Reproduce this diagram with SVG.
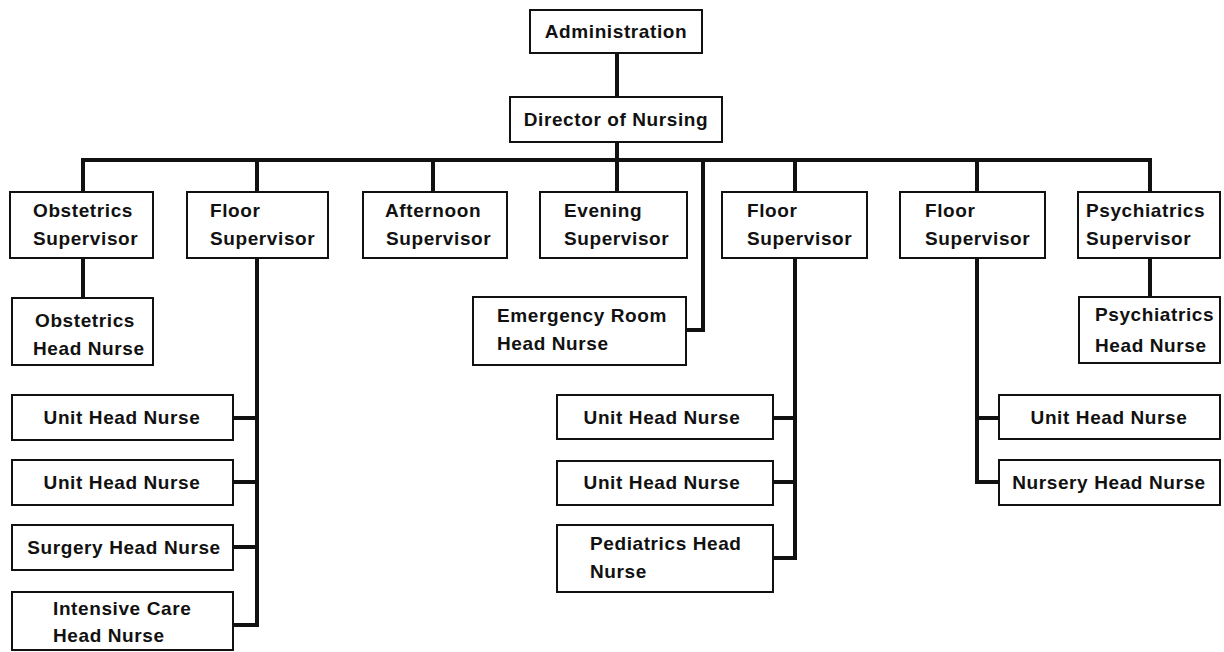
<svg xmlns="http://www.w3.org/2000/svg" width="1224" height="652" viewBox="0 0 1224 652">
<style>
.box{fill:#fff;stroke:#111;stroke-width:2}
.t{font-family:"Liberation Sans",Arial,sans-serif;font-weight:bold;font-size:19px;letter-spacing:0.6px;fill:#111}
.c{text-anchor:middle}
.ln{fill:none;stroke:#111;stroke-width:4;stroke-linejoin:miter;stroke-linecap:square}
</style>
<rect width="1224" height="652" fill="#fff"/>
<g id="connectors">
<path class="ln" d="M617 53V192"/>
<path class="ln" d="M83 160H1150V192"/>
<path class="ln" d="M83 160V192M257 160V192M433 160V192M795 160V192M977 160V192"/>
<path class="ln" d="M703 160V330H687"/>
<path class="ln" d="M83 258V298"/>
<path class="ln" d="M1150 258V297"/>
<path class="ln" d="M257 258V625H234M234 418H257M234 482H257M234 547H257"/>
<path class="ln" d="M795 258V558H774M774 418H795M774 482H795"/>
<path class="ln" d="M977 258V482H999M977 418H999"/>
</g>
<g id="administration"><rect class="box" x="530" y="10" width="172" height="43"/><text class="t c" x="616" y="38">Administration</text></g>
<g id="director"><rect class="box" x="510" y="97" width="212" height="45"/><text class="t c" x="616" y="126">Director of Nursing</text></g>
<g id="obstetrics-supervisor"><rect class="box" x="10" y="192" width="143" height="66"/><text class="t" x="33" y="217">Obstetrics</text><text class="t" x="33" y="245">Supervisor</text></g>
<g id="floor-supervisor-1"><rect class="box" x="187" y="192" width="141" height="66"/><text class="t" x="210" y="217">Floor</text><text class="t" x="210" y="245">Supervisor</text></g>
<g id="afternoon-supervisor"><rect class="box" x="363" y="192" width="144" height="66"/><text class="t" x="385" y="217">Afternoon</text><text class="t" x="386" y="245">Supervisor</text></g>
<g id="evening-supervisor"><rect class="box" x="540" y="192" width="147" height="66"/><text class="t" x="564" y="217">Evening</text><text class="t" x="564" y="245">Supervisor</text></g>
<g id="floor-supervisor-2"><rect class="box" x="722" y="192" width="145" height="66"/><text class="t" x="747" y="217">Floor</text><text class="t" x="747" y="245">Supervisor</text></g>
<g id="floor-supervisor-3"><rect class="box" x="900" y="192" width="145" height="66"/><text class="t" x="925" y="217">Floor</text><text class="t" x="925" y="245">Supervisor</text></g>
<g id="psychiatrics-supervisor"><rect class="box" x="1078" y="192" width="142" height="66"/><text class="t" x="1086" y="217">Psychiatrics</text><text class="t" x="1086" y="245">Supervisor</text></g>
<g id="obstetrics-head-nurse"><rect class="box" x="12" y="298" width="141" height="67"/><text class="t" x="35" y="327">Obstetrics</text><text class="t" x="33" y="355">Head Nurse</text></g>
<g id="emergency-room-head-nurse"><rect class="box" x="473" y="297" width="213" height="68"/><text class="t" x="497" y="322">Emergency Room</text><text class="t" x="497" y="350">Head Nurse</text></g>
<g id="psychiatrics-head-nurse"><rect class="box" x="1079" y="297" width="141" height="66"/><text class="t" x="1095" y="321">Psychiatrics</text><text class="t" x="1095" y="352">Head Nurse</text></g>
<g id="unit-head-nurse-1"><rect class="box" x="12" y="395" width="221" height="45"/><text class="t c" x="122" y="424">Unit Head Nurse</text></g>
<g id="unit-head-nurse-2"><rect class="box" x="12" y="460" width="221" height="45"/><text class="t c" x="122" y="489">Unit Head Nurse</text></g>
<g id="surgery-head-nurse"><rect class="box" x="12" y="525" width="221" height="45"/><text class="t c" x="124" y="554">Surgery Head Nurse</text></g>
<g id="intensive-care-head-nurse"><rect class="box" x="12" y="592" width="221" height="58"/><text class="t" x="53" y="615">Intensive Care</text><text class="t" x="53" y="642">Head Nurse</text></g>
<g id="unit-head-nurse-3"><rect class="box" x="557" y="395" width="216" height="44"/><text class="t c" x="662" y="424">Unit Head Nurse</text></g>
<g id="unit-head-nurse-4"><rect class="box" x="557" y="461" width="216" height="44"/><text class="t c" x="662" y="489">Unit Head Nurse</text></g>
<g id="pediatrics-head-nurse"><rect class="box" x="557" y="525" width="216" height="67"/><text class="t" x="590" y="550">Pediatrics Head</text><text class="t" x="590" y="578">Nurse</text></g>
<g id="unit-head-nurse-5"><rect class="box" x="999" y="395" width="221" height="44"/><text class="t c" x="1109" y="424">Unit Head Nurse</text></g>
<g id="nursery-head-nurse"><rect class="box" x="999" y="460" width="221" height="45"/><text class="t c" x="1109" y="489">Nursery Head Nurse</text></g>
</svg>
